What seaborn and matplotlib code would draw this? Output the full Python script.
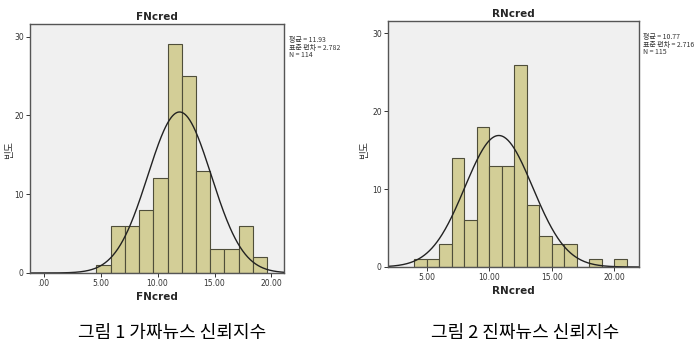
import numpy as np
import pandas as pd
import matplotlib
matplotlib.use("Agg")
import matplotlib.pyplot as plt
import seaborn as sns

# ---- data ----
fn_edges_start = 4.625
fn_bin_width = 1.25
fn_counts = [1, 6, 6, 8, 12, 29, 25, 13, 3, 3, 6, 2]
fn_mean, fn_sd, fn_n = 11.93, 2.782, 114

rn_edges_start = 4.0
rn_bin_width = 1.0
rn_counts = [1, 1, 3, 14, 6, 18, 13, 13, 26, 8, 4, 3, 3, 0, 1, 0, 1]
rn_mean, rn_sd, rn_n = 10.77, 2.716, 115

x_ticks = [0, 5, 10, 15, 20]
x_tick_labels = [".00", "5.00", "10.00", "15.00", "20.00"]
y_ticks = [0, 10, 20, 30]

titles = ["FNcred", "RNcred"]
y_label = "빈도"
captions = ["그림 1 가짜뉴스 신뢰지수", "그림 2 진짜뉴스 신뢰지수"]

sns.set_theme(style="white")
plt.rcParams['font.family'] = ['Noto Sans CJK KR', 'DejaVu Sans']

BAR = "#D3CE97"
EDGE = "#4F4E3A"
FACE = "#F0F0F0"

fig = plt.figure(figsize=(6.99, 3.51), dpi=100)
W, H = 699, 351

def ax_rect(x0, y0, x1, y1):
    return [x0 / W, 1 - y1 / H, (x1 - x0) / W, (y1 - y0) / H]

panels = [
    dict(rect=ax_rect(30, 24, 284, 273), start=fn_edges_start, w=fn_bin_width,
         counts=fn_counts, mean=fn_mean, sd=fn_sd, n=fn_n, xlim=(-1.2, 21.1),
         ylim=(0, 31.6), title=titles[0], ticks=x_ticks, labels=x_tick_labels,
         stats_x=289, stats_y=36, ylab_x=9, cap_x=172),
    dict(rect=ax_rect(388, 21, 639, 267), start=rn_edges_start, w=rn_bin_width,
         counts=rn_counts, mean=rn_mean, sd=rn_sd, n=rn_n, xlim=(1.9, 22.0),
         ylim=(0, 31.6), title=titles[1], ticks=x_ticks[1:], labels=x_tick_labels[1:],
         stats_x=643, stats_y=33, ylab_x=364, cap_x=525),
]

for i, p in enumerate(panels):
    ax = fig.add_axes(p["rect"])
    k = len(p["counts"])
    edges = [float(v) for v in p["start"] + p["w"] * np.arange(k + 1)]
    centers = [(edges[j] + edges[j + 1]) / 2 for j in range(k)]
    df = pd.DataFrame({"x": centers, "c": [float(c) for c in p["counts"]]})
    sns.histplot(data=df, x="x", weights="c", bins=edges, ax=ax,
                 color=BAR, edgecolor=EDGE, linewidth=0.8, alpha=1)
    xs = np.linspace(p["xlim"][0], p["xlim"][1], 400)
    ys = p["n"] * p["w"] * np.exp(-0.5 * ((xs - p["mean"]) / p["sd"]) ** 2) / (p["sd"] * np.sqrt(2 * np.pi))
    sns.lineplot(x=xs, y=ys, ax=ax, color="#222222", linewidth=1.0)
    ax.set_facecolor(FACE)
    ax.set_xlim(*p["xlim"])
    ax.set_ylim(*p["ylim"])
    ax.set_xticks(p["ticks"])
    ax.set_xticklabels(p["labels"], fontsize=5.5, color="#333333", family="DejaVu Sans")
    ax.set_yticks(y_ticks)
    ax.set_yticklabels([str(v) for v in y_ticks], fontsize=5.5, color="#333333", family="DejaVu Sans")
    ax.tick_params(axis="both", direction="out", length=3, width=0.7, colors="#333333", pad=1.5,
                   bottom=True, left=True)
    for s in ax.spines.values():
        s.set_color("#555555")
        s.set_linewidth(1.0)
    ax.set_xlabel(p["title"], fontsize=7.5, fontweight="bold", family="DejaVu Sans", labelpad=3)
    ax.set_ylabel("")
    ax.set_title(p["title"], fontsize=7.5, fontweight="bold", family="DejaVu Sans", pad=3)
    fig.text(p["ylab_x"] / W, 1 - 150 / H, y_label, rotation=90,
             fontsize=7, ha="center", va="center", color="#333333")
    stats = f"평균 = {p['mean']:.2f}\n표준 편차 = {p['sd']:.3f}\nN = {p['n']}"
    fig.text(p["stats_x"] / W, 1 - p["stats_y"] / H, stats, fontsize=5, va="top", ha="left",
             linespacing=0.95, color="#333333")
    fig.text(p["cap_x"] / W, 1 - 333 / H, captions[i], fontsize=13,
             ha="center", va="center", color="black")

fig.savefig("out.png", dpi=100)
